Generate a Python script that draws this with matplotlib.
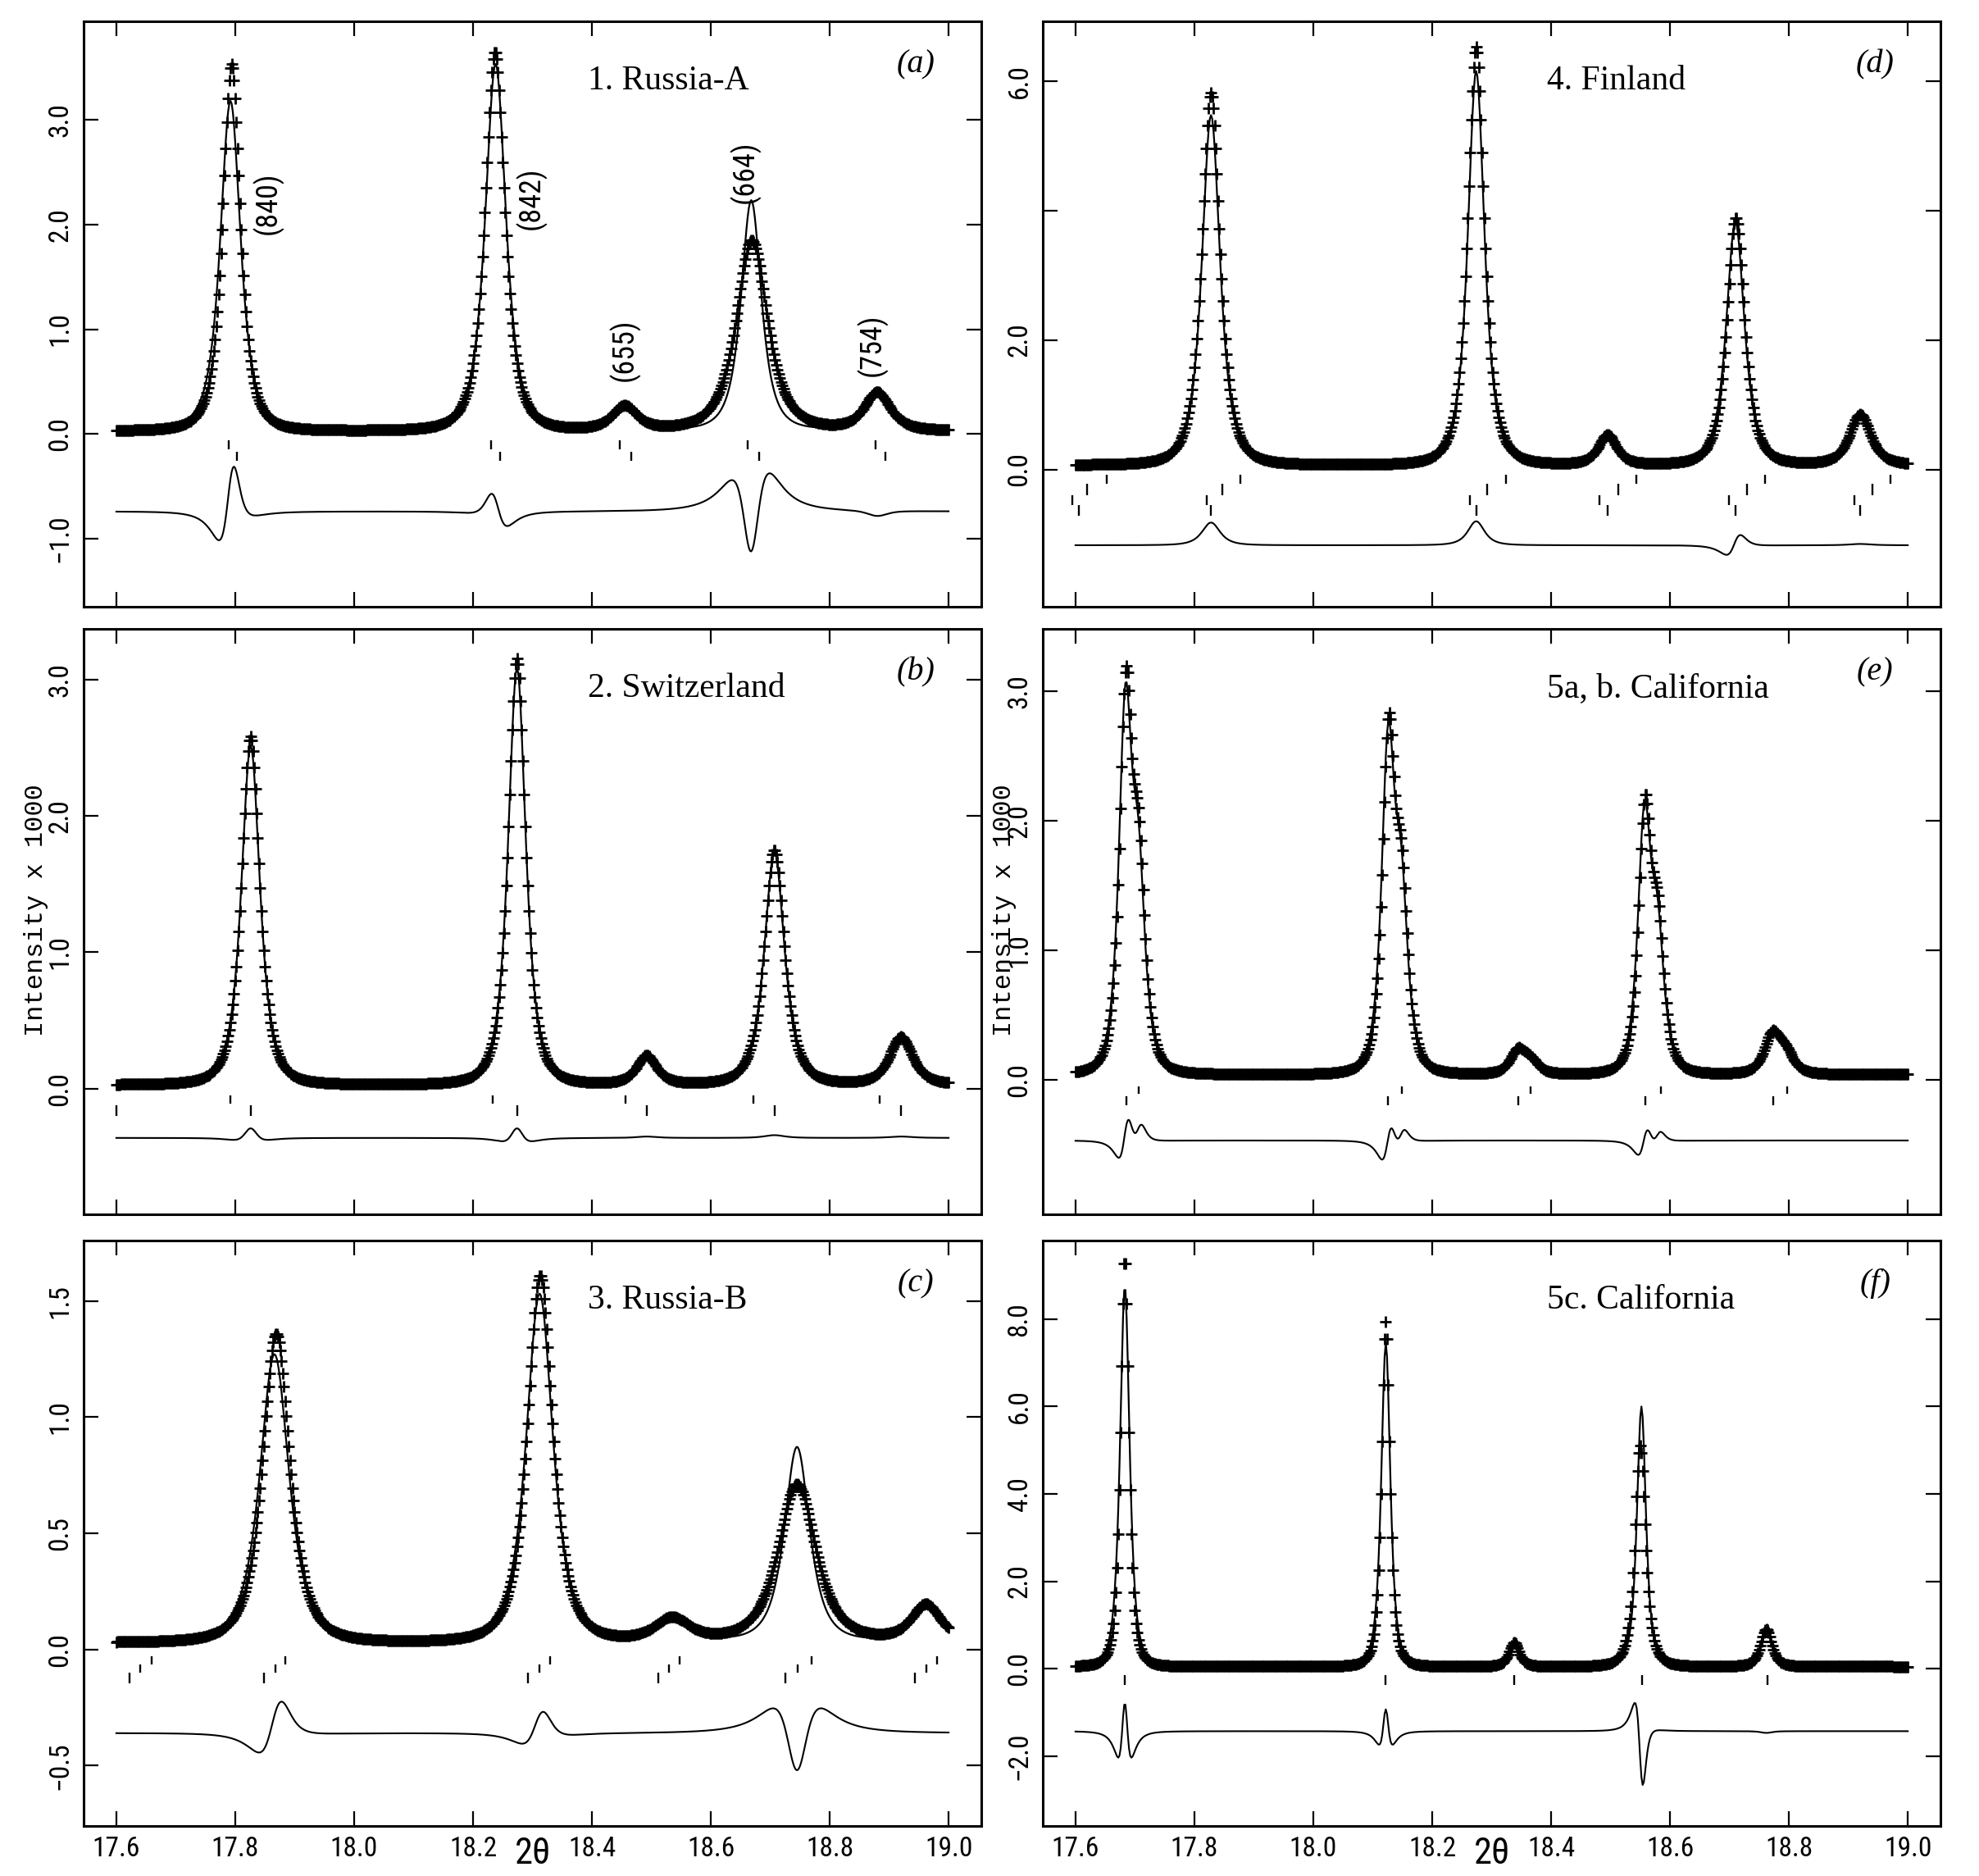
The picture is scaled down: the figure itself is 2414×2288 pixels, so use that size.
import numpy as np
import matplotlib
matplotlib.use('Agg')
import matplotlib.pyplot as plt
from matplotlib import font_manager as fm

# ---------------- data ----------------
two_theta_ticks = [17.6, 17.8, 18.0, 18.2, 18.4, 18.6, 18.8, 19.0]
two_theta_labels = ["17.6", "17.8", "18.0", "18.2", "18.4", "18.6", "18.8", "19.0"]
x_min, x_max, x_step = 17.6, 19.0, 0.002

titles = ["1. Russia-A", "2. Switzerland", "3. Russia-B",
          "4. Finland", "5a, b. California", "5c. California"]
letters = ["(a)", "(b)", "(c)", "(d)", "(e)", "(f)"]

# peak positions, heights (obs / calc), widths (obs / calc), obs shift
a_pos = [17.792, 18.238, 18.455, 18.668, 18.880]
a_h_obs = [3.50, 3.62, 0.23, 1.82, 0.36]
a_h_calc = [3.15, 3.50, 0.23, 2.20, 0.41]
a_w_obs = [0.035, 0.039, 0.050, 0.062, 0.052]
a_w_calc = [0.040, 0.041, 0.050, 0.040, 0.050]
a_shift = [0.002, -0.001, 0.0, 0.001, 0.0]
a_bg, a_base = 0.03, -0.74
a_ylim = (-1.65, 3.94)
a_yticks = [-1.0, 0.0, 1.0, 2.0, 3.0]
a_ylabels = ["\u22121.0", "0.0", "1.0", "2.0", "3.0"]
a_ticks = [(-0.06, -0.15, [17.789, 18.231, 18.447, 18.662, 18.877]),
           (-0.17, -0.26, [17.803, 18.246, 18.466, 18.681, 18.893])]
a_hkl = ["(840)", "(842)", "(655)", "(664)", "(754)"]
a_hkl_x = [17.855, 18.297, 18.454, 18.657, 18.871]
a_hkl_y = [2.20, 2.25, 0.80, 2.50, 0.85]

b_pos = [17.826, 18.274, 18.492, 18.707, 18.920]
b_h_obs = [2.55, 3.12, 0.21, 1.72, 0.35]
b_h_calc = [2.48, 3.05, 0.20, 1.70, 0.34]
b_w_obs = [0.036, 0.034, 0.040, 0.040, 0.046]
b_w_calc = [0.037, 0.035, 0.040, 0.040, 0.046]
b_shift = [0.0, 0.0, 0.0, 0.0, 0.0]
b_bg, b_base = 0.03, -0.36
b_ylim = (-0.92, 3.37)
b_yticks = [0.0, 1.0, 2.0, 3.0]
b_ylabels = ["0.0", "1.0", "2.0", "3.0"]
b_ticks = [(-0.05, -0.11, [17.792, 18.233, 18.457, 18.672, 18.884]),
           (-0.12, -0.20, [17.600, 17.826, 18.274, 18.492, 18.707, 18.920])]

c_pos = [17.866, 18.312, 18.535, 18.745, 18.962]
c_h_obs = [1.33, 1.58, 0.10, 0.68, 0.16]
c_h_calc = [1.24, 1.50, 0.10, 0.84, 0.16]
c_w_obs = [0.054, 0.050, 0.070, 0.075, 0.060]
c_w_calc = [0.058, 0.053, 0.070, 0.050, 0.060]
c_shift = [0.003, 0.001, 0.0, 0.0, 0.0]
c_bg, c_base = 0.03, -0.36
c_ylim = (-0.76, 1.76)
c_yticks = [-0.5, 0.0, 0.5, 1.0, 1.5]
c_ylabels = ["\u22120.5", "0.0", "0.5", "1.0", "1.5"]
c_ticks = [(-0.03, -0.066, [17.660, 17.884, 18.329, 18.548, 18.769, 18.980]),
           (-0.066, -0.10, [17.640, 17.867, 18.312, 18.530, 18.746, 18.962]),
           (-0.10, -0.145, [17.622, 17.848, 18.293, 18.511, 18.725, 18.943])]

d_pos = [17.828, 18.274, 18.495, 18.710, 18.920]
d_h_obs = [5.75, 6.45, 0.46, 3.82, 0.78]
d_h_calc = [5.40, 6.08, 0.46, 3.75, 0.76]
d_w_obs = [0.036, 0.033, 0.036, 0.035, 0.042]
d_w_calc = [0.036, 0.033, 0.036, 0.036, 0.042]
d_shift = [0.0, 0.0, 0.0, 0.001, 0.0]
d_bg, d_base = 0.07, -1.17
d_ylim = (-2.12, 6.92)
d_yticks = [0.0, 2.0, 4.0, 6.0]
d_ylabels = ["0.0", "2.0", "", "6.0"]
d_ticks = [(-0.085, -0.225, [17.652, 17.877, 18.324, 18.544, 18.760, 18.971]),
           (-0.225, -0.40, [17.620, 17.847, 18.293, 18.513, 18.729, 18.940]),
           (-0.40, -0.55, [17.594, 17.821, 18.264, 18.482, 18.699, 18.910]),
           (-0.55, -0.72, [17.605, 17.828, 18.274, 18.495, 18.710, 18.920])]

e_pos = [17.684, 18.126, 18.344, 18.557, 18.772]
e_h_obs = [2.85, 2.52, 0.18, 1.96, 0.29]
e_h_calc = [2.72, 2.45, 0.18, 1.90, 0.29]
e_w_obs = [0.025, 0.025, 0.030, 0.025, 0.032]
e_w_calc = [0.026, 0.026, 0.030, 0.026, 0.032]
e_shift = [0.001, 0.001, 0.0, 0.001, 0.0]
e_bg, e_base = 0.04, -0.47
e_ylim = (-1.04, 3.48)
e_yticks = [0.0, 1.0, 2.0, 3.0]
e_ylabels = ["0.0", "1.0", "2.0", "3.0"]
e_ticks = [(-0.05, -0.11, [17.707, 18.149, 18.366, 18.585, 18.797]),
           (-0.13, -0.20, [17.685, 18.126, 18.345, 18.559, 18.773])]
e_split, e_ratio = 0.022, 0.5

f_pos = [17.683, 18.122, 18.338, 18.552, 18.762]
f_h_obs = [9.35, 7.90, 0.55, 5.05, 0.86]
f_h_calc = [8.70, 7.40, 0.55, 5.95, 0.90]
f_w_obs = [0.016, 0.016, 0.020, 0.021, 0.022]
f_w_calc = [0.019, 0.018, 0.020, 0.018, 0.022]
f_shift = [0.0, 0.0, 0.0, -0.002, 0.0]
f_bg, f_base = 0.05, -1.43
f_ylim = (-3.6, 9.8)
f_yticks = [-2.0, 0.0, 2.0, 4.0, 6.0, 8.0]
f_ylabels = ["\u22122.0", "0.0", "2.0", "4.0", "6.0", "8.0"]
f_ticks = [(-0.14, -0.38, [17.683, 18.122, 18.338, 18.553, 18.764])]


# ---------------- fonts ----------------
def pick_font(cands):
    names = {f.name for f in fm.fontManager.ttflist}
    for c in cands:
        if c in names:
            return c
    return "DejaVu Sans"


SANS = pick_font(["Liberation Sans Narrow", "Roboto Condensed", "Open Sans Condensed",
                  "Noto Sans Condensed", "DejaVu Sans"])
SERIF = pick_font(["Liberation Serif", "DejaVu Serif"])
MONO = pick_font(["Liberation Mono", "DejaVu Sans Mono"])
sans_kw = dict(family=SANS, fontstretch="condensed")


def profile(x, pos, h, w, bg, split=0.0, ratio=0.0, m=1.6):
    # Pearson VII peaks, w = FWHM
    k = 2 ** (1.0 / m) - 1
    y = np.full_like(x, bg)
    for p, hh, ww in zip(pos, h, w):
        comps = [(p, 1.0)]
        if ratio > 0:
            comps.append((p + split, ratio))
        for pp, rr in comps:
            d = 2.0 * (x - pp) / ww
            y += hh * rr / (1.0 + k * d * d) ** m
    return y


panels = [
    dict(pos=a_pos, ho=a_h_obs, hc=a_h_calc, wo=a_w_obs, wc=a_w_calc, sh=a_shift, bg=a_bg,
         base=a_base, ylim=a_ylim, yt=a_yticks, yl=a_ylabels, ticks=a_ticks),
    dict(pos=b_pos, ho=b_h_obs, hc=b_h_calc, wo=b_w_obs, wc=b_w_calc, sh=b_shift, bg=b_bg,
         base=b_base, ylim=b_ylim, yt=b_yticks, yl=b_ylabels, ticks=b_ticks),
    dict(pos=c_pos, ho=c_h_obs, hc=c_h_calc, wo=c_w_obs, wc=c_w_calc, sh=c_shift, bg=c_bg,
         base=c_base, ylim=c_ylim, yt=c_yticks, yl=c_ylabels, ticks=c_ticks),
    dict(pos=d_pos, ho=d_h_obs, hc=d_h_calc, wo=d_w_obs, wc=d_w_calc, sh=d_shift, bg=d_bg,
         base=d_base, ylim=d_ylim, yt=d_yticks, yl=d_ylabels, ticks=d_ticks),
    dict(pos=e_pos, ho=e_h_obs, hc=e_h_calc, wo=e_w_obs, wc=e_w_calc, sh=e_shift, bg=e_bg,
         base=e_base, ylim=e_ylim, yt=e_yticks, yl=e_ylabels, ticks=e_ticks,
         split=e_split, ratio=e_ratio),
    dict(pos=f_pos, ho=f_h_obs, hc=f_h_calc, wo=f_w_obs, wc=f_w_calc, sh=f_shift,
         bg=f_bg, base=f_base, ylim=f_ylim, yt=f_yticks, yl=f_ylabels, ticks=f_ticks),
]

W, H = 2414, 2288
fig = plt.figure(figsize=(W / 100, H / 100), dpi=100)

col_left = [102, 1272]
col_width = 1095
row_top = [26, 767, 1513]
row_height = 714

x = np.arange(x_min, x_max + x_step / 2, x_step)

for i, p in enumerate(panels):
    col, row = divmod(i, 3)
    l = col_left[col] / W
    b = 1 - (row_top[row] + row_height) / H
    ax = fig.add_axes([l, b, col_width / W, row_height / H])

    split = p.get("split", 0.0)
    ratio = p.get("ratio", 0.0)
    calc = profile(x, p["pos"], p["hc"], p["wc"], p["bg"], split, ratio)
    obs = profile(x, np.array(p["pos"]) + np.array(p["sh"]), p["ho"], p["wo"], p["bg"], split, ratio)
    diff = obs - calc + p["base"]

    ax.plot(x, obs, ls="none", marker="+", ms=10, mew=2.0, color="black", zorder=3)
    ax.plot(x, calc, color="black", lw=1.6, zorder=4)
    ax.plot(x, diff, color="black", lw=1.5, zorder=3)
    for y0, y1, xs in p["ticks"]:
        ax.vlines(xs, y1, y0, color="black", lw=1.7)

    ax.set_xlim(17.545, 19.055)
    ax.set_ylim(*p["ylim"])
    ax.set_xticks(two_theta_ticks)
    if row == 2:
        ax.set_xticklabels(two_theta_labels, **sans_kw, fontsize=24)
    else:
        ax.set_xticklabels([])
    ax.set_yticks(p["yt"])
    ax.set_yticklabels(p["yl"], rotation=90, va="center", **sans_kw, fontsize=24)
    ax.tick_params(direction="in", length=13, width=1.6, top=True, right=True, pad=9)
    for s in ax.spines.values():
        s.set_linewidth(2.2)

    ax.text(0.562, 0.884, titles[i], transform=ax.transAxes, family=SERIF,
            fontsize=30, va="baseline", ha="left")
    ax.text(0.927, 0.913, letters[i], transform=ax.transAxes, family=SERIF,
            style="italic", fontsize=29, va="baseline", ha="center")

    if i == 0:
        for lab, hx, hy in zip(a_hkl, a_hkl_x, a_hkl_y):
            ax.text(hx, hy, lab, rotation=90, ha="center", va="center",
                    **sans_kw, fontsize=26)

# axis labels
for xc in (650 / W, 1820 / W):
    fig.text(xc, 0.012, "2\u03b8", ha="center", va="center", **sans_kw, fontsize=32)
for xc in (44 / W, 1225 / W):
    fig.text(xc, 0.515, "Intensity x 1000", rotation=90, ha="center", va="center",
             family=MONO, fontsize=23)

fig.savefig("out.png", dpi=100)
